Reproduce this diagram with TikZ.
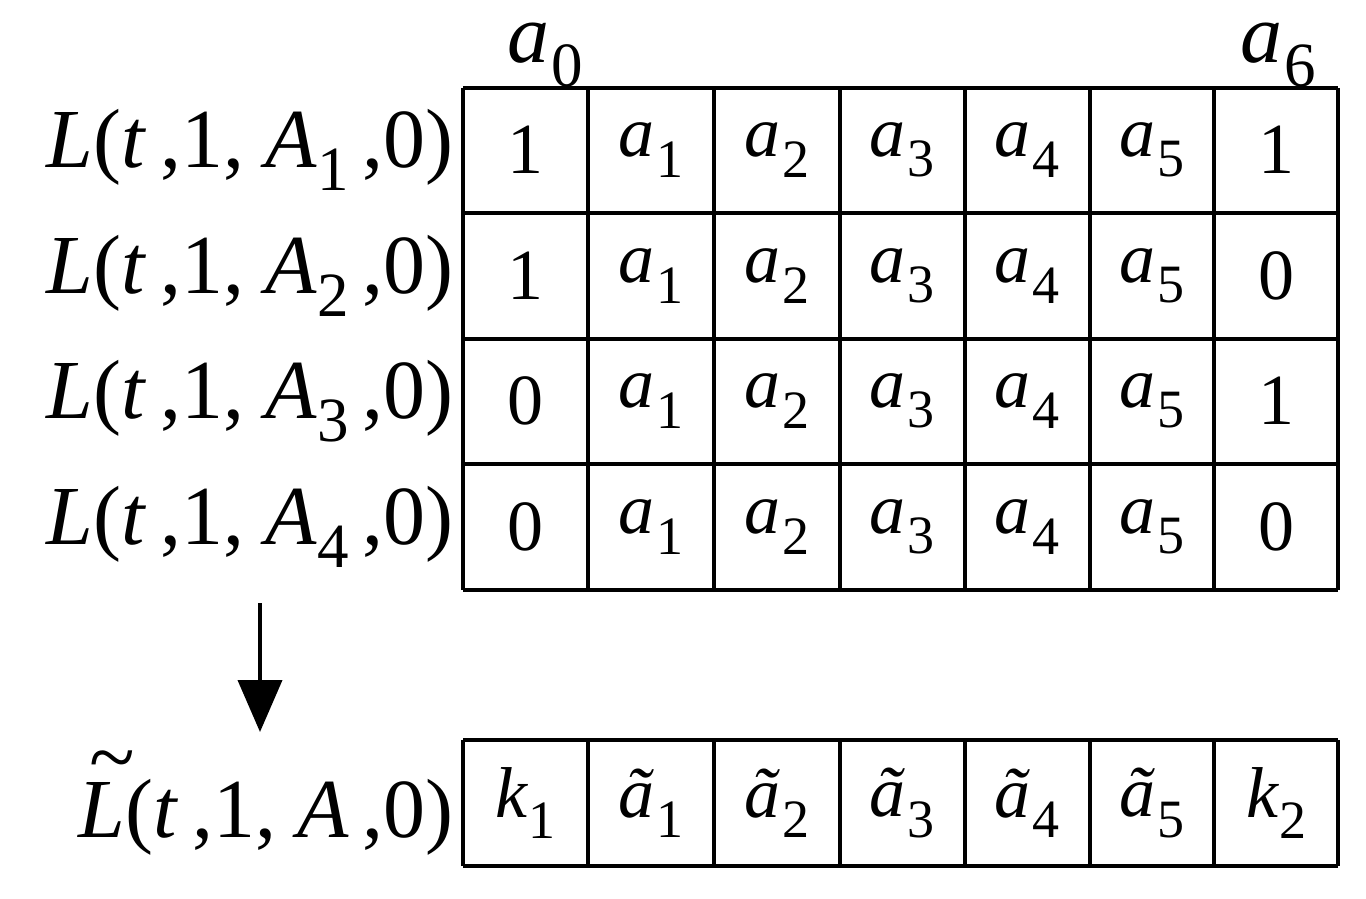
\documentclass[tikz,border=0pt]{standalone}
\usepackage{fontspec}
\setmainfont{Liberation Serif}
\usetikzlibrary{arrows.meta}
\newcommand{\ssub}[1]{\raisebox{-0.28em}{\fontsize{0.75em}{0.8em}\selectfont #1}}
\newcommand{\va}[1]{\textit{a}\kern0.02em\ssub{#1}}
\newcommand{\ta}[1]{\textit{ã}\kern0.02em\ssub{#1}}
\newcommand{\Lab}[1]{\textit{L}(\textit{t}\,,1, \textit{A}\ssub{#1}\,,0)}
\begin{document}
\begin{tikzpicture}[x=0.5pt,y=-0.5pt,
  cell/.style={font=\fontsize{36}{40}\selectfont},
  lab/.style={font=\fontsize{42}{46}\selectfont,anchor=east,inner sep=2pt}]
\useasboundingbox (0,0) rectangle (1366,899);
\def\xs{463,588,714,840,965,1090,1214,1338}
\foreach \y in {88,213,339,464,590} \draw[line width=2pt] (463,\y) -- (1338,\y);
\foreach \x in \xs {\draw[line width=2pt] (\x,88) -- (\x,590); \draw[line width=2pt] (\x,740) -- (\x,866);}
\draw[line width=2pt] (463,740) -- (1338,740) (463,866) -- (1338,866);
\foreach \r/\y/\f/\l in {1/150/1/1,2/276/1/0,3/401/0/1,4/527/0/0}{
  \node[lab] (L\r) at (458,\y) {\Lab{\r}};
  \node[cell] (c\r0) at (525,\y) {\f};
  \foreach \k/\x in {1/651,2/777,3/902,4/1027,5/1152}
    \node[cell] (c\r\k) at (\x,\y) {\va{\k}};
  \node[cell] (c\r6) at (1276,\y) {\l};
}
\node[cell] (b0) at (525,803) {\textit{k}\ssub{1}};
\foreach \k/\x in {1/651,2/777,3/902,4/1027,5/1152}
  \node[cell] (b\k) at (\x,803) {\ta{\k}};
\node[cell] (b6) at (1276,803) {\textit{k}\ssub{2}};
\node[lab] (Lt) at (458,803) {\makebox[0pt][l]{\kern0.12em\raisebox{0.62em}{\textit{\~{}}}}\textit{L}(\textit{t}\,,1, \textit{A}\,,0)};
\node[font=\fontsize{42}{46}\selectfont] (a0) at (545,55) {\va{0}};
\node[font=\fontsize{42}{46}\selectfont] (a6) at (1278,55) {\va{6}};
\coordinate (s) at (260,603); \coordinate (e) at (260,732);
\draw[line width=2pt,-{Triangle[length=26pt,width=22pt]}] (s) -- (e);
\end{tikzpicture}
\end{document}
